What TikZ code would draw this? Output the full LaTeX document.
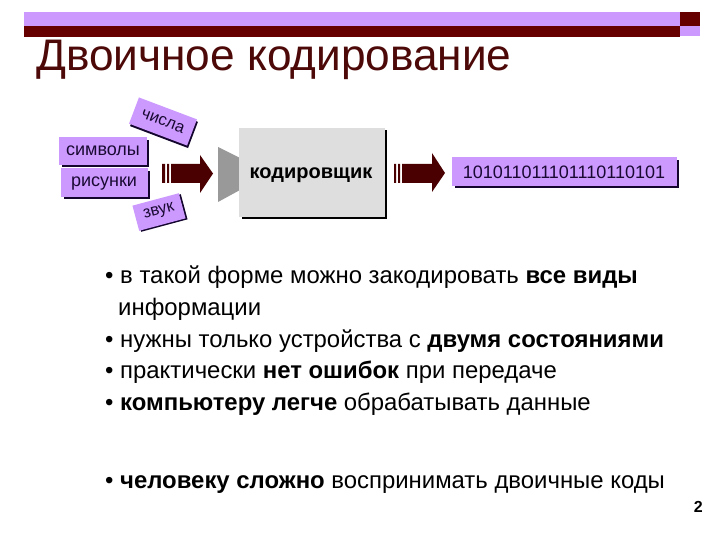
\documentclass[tikz,border=0pt]{standalone}
\usepackage{fontspec}
\setmainfont{Liberation Sans}
\definecolor{lil}{HTML}{CC99FF}
\definecolor{dk}{HTML}{660000}
\definecolor{ttl}{HTML}{4D0808}
\definecolor{arw}{HTML}{4A0000}
\definecolor{ink}{HTML}{1A0A33}
\definecolor{shd}{HTML}{14052E}
\tikzset{
 lab/.style={inner sep=0pt,font=\fontsize{18}{20}\selectfont,text=ink},
 rlab/.style={fill=lil,inner sep=0pt,font=\fontsize{16.5}{20}\selectfont,text=ink},
 blt/.style={anchor=base west,inner sep=0pt,font=\fontsize{23.9}{26}\selectfont,text=black}
}
\newcommand{\shadowrect}[5]{%
 \fill[shd] (#1+3,#2+3) rectangle (#3+2,#4+2);
 \fill[#5] (#1,#2) rectangle (#3,#4);}
\begin{document}
\begin{tikzpicture}[x=1pt,y=-1pt]
\useasboundingbox (0,0) rectangle (720,540);
\fill[white] (0,0) rectangle (720,540);
% header
\fill[lil] (24,12) rectangle (680,26);
\fill[dk] (24,26) rectangle (680,37);
\fill[dk] (680,12) rectangle (700,26);
\fill[lil] (680,26) rectangle (700,36);
\node[anchor=base west,inner sep=0pt,text=ttl] (title) at (36,71) {\fontsize{44.2}{48}\selectfont Двоичное кодирование};
% rotated labels
\fill[shd,rotate around={-20.7:(164,124)}] (133,110) rectangle (195,138);
\node[rotate=-20.7,minimum width=62pt,minimum height=28pt,rlab] (nums) at (163,121.5) {числа};
\fill[shd,rotate around={15:(161,213)}] (137,200) rectangle (185,226);
\node[rotate=15,minimum width=48pt,minimum height=26pt,rlab] (snd) at (159,212) {звук};
% left boxes
\shadowrect{59}{137}{147}{165}{lil}
\node[lab] (sym) at (103,151) {символы};
\shadowrect{61}{168}{148}{197}{lil}
\node[lab] (pic) at (104,184) {рисунки};
% arrow 1
\fill[arw] (162,164) rectangle (165,183) (167,164) rectangle (169,183)
 (171,164) -- (200,164) -- (200,155) -- (213,173.5) -- (200,193) -- (200,183) -- (171,183) -- cycle;
% funnel
\fill[black!40] (218,147) -- (240,158) -- (240,190) -- (218,202) -- cycle;
% encoder
\fill[black] (242,130) rectangle (387,219);
\fill[black!13] (239,128) rectangle (385,217);
\node[inner sep=0pt,font=\bfseries\fontsize{20}{22}\selectfont] (enc) at (311,175) {кодировщик};
% arrow 2
\fill[arw] (394,164) rectangle (396,183) (398,164) rectangle (400,183)
 (402,164) -- (432,164) -- (432,153) -- (445,173) -- (432,192) -- (432,183) -- (402,183) -- cycle;
% output
\shadowrect{452}{157}{677}{186}{lil}
\node[lab] (out) at (564,172) {101011011101110110101};
% bullets
\node[blt] (b1) at (105,283) {• в такой форме можно закодировать \textbf{все виды}};
\node[blt] (b1b) at (118,315) {информации};
\node[blt] (b2) at (105,347) {• нужны только устройства с \textbf{двумя состояниями}};
\node[blt] (b3) at (105,378) {• практически \textbf{нет ошибок} при передаче};
\node[blt] (b4) at (105,410) {• \textbf{компьютеру легче} обрабатывать данные};
\node[blt] (b5) at (105,488) {• \textbf{человеку сложно} воспринимать двоичные коды};
\node[anchor=base east,inner sep=0pt,font=\bfseries\fontsize{16}{18}\selectfont] (pg) at (703,512) {2};
\end{tikzpicture}
\end{document}
